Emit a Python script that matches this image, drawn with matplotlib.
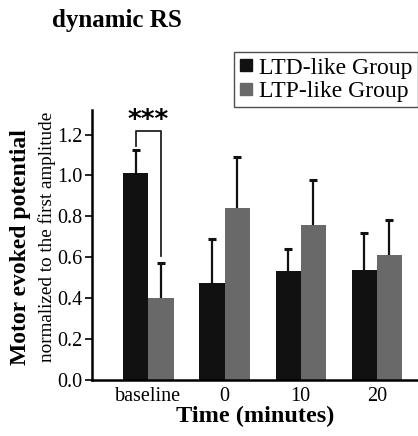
import matplotlib
matplotlib.use("Agg")
import matplotlib.pyplot as plt
from matplotlib.lines import Line2D
import numpy as np

categories = ["baseline", "0", "10", "20"]
ltd_mean = [1.01, 0.475, 0.535, 0.54]
ltd_err = [0.115, 0.215, 0.105, 0.18]
ltp_mean = [0.40, 0.84, 0.76, 0.61]
ltp_err = [0.17, 0.25, 0.22, 0.17]
yticks = [0.0, 0.2, 0.4, 0.6, 0.8, 1.0, 1.2]
series_names = ["LTD-like Group", "LTP-like Group"]

plt.rcParams['font.family'] = ['Liberation Serif', 'DejaVu Serif']

fig = plt.figure(figsize=(4.18, 4.36), dpi=100)
ax = fig.add_axes([92/418, 56/436, 1 - 92/418, (380-110)/436])

x = np.arange(len(categories))
w = 0.33
black = '#111111'
gray = '#696969'
err_color = '#111111'

for offset, means, errs, col in [(-w/2, ltd_mean, ltd_err, black),
                                  (w/2, ltp_mean, ltp_err, gray)]:
    xs = x + offset
    tops = np.array(means) + np.array(errs)
    ax.bar(xs, means, w, color=col, zorder=2)
    ax.vlines(xs, means, tops, color=err_color, lw=1.6, zorder=1)
    ax.plot(xs, tops, ls='none', marker='_', markersize=6, markeredgewidth=2.2,
            color=err_color, zorder=1)

ax.set_xlim(-0.742, 3.54)
ax.set_ylim(0, 1.32)
ax.set_yticks(yticks)
ax.set_yticklabels([f"{v:.1f}" for v in yticks])
ax.set_xticks(x)
ax.set_xticklabels(categories)
for s in ['top', 'right']:
    ax.spines[s].set_visible(False)
for s in ['left', 'bottom']:
    ax.spines[s].set_linewidth(1.8)
ax.tick_params(axis='y', direction='out', length=5, width=1.2, pad=2, labelsize=14.5)
ax.tick_params(axis='x', length=0, pad=5, labelsize=14.5)
ax.set_xlabel("Time (minutes)", fontsize=17.5, fontweight='bold', labelpad=0)

# significance bracket
y_top = 1.216
x0 = 0 - w/2
x1 = 0 + w/2
ax.plot([x0, x0, x1, x1], [ltd_mean[0] + ltd_err[0] + 0.02, y_top, y_top, 0.605],
        color='#222222', lw=1.3, clip_on=False)
ax.text(0, y_top - 0.015, "***", ha='center', va='bottom', fontsize=19,
        fontweight='bold', family='DejaVu Sans', clip_on=False)

fig.text(21/418, 1 - 247/436, "Motor evoked potential", rotation=90, ha='center',
         va='center', fontsize=17, fontweight='bold')
fig.text(47.5/418, 1 - 236.5/436, "normalized to the first amplitude", rotation=90,
         ha='center', va='center', fontsize=13.8)

fig.text(52/418, 1 - 20/436, "dynamic RS", ha='left', va='center', fontsize=18,
         fontweight='bold')

handles = [Line2D([], [], marker='s', ls='none', color=black, markersize=9),
           Line2D([], [], marker='s', ls='none', color=gray, markersize=9)]
leg = fig.legend(handles, series_names, loc='upper left',
                 bbox_to_anchor=(234/418, 1 - 52/436), bbox_transform=fig.transFigure,
                 fontsize=17.0, frameon=True, fancybox=False, handlelength=0.55,
                 handletextpad=0.3, borderpad=0.22, labelspacing=0.08, borderaxespad=0)
leg.get_frame().set_edgecolor('#222222')
leg.get_frame().set_linewidth(1.0)

fig.savefig("out.png", dpi=100)
